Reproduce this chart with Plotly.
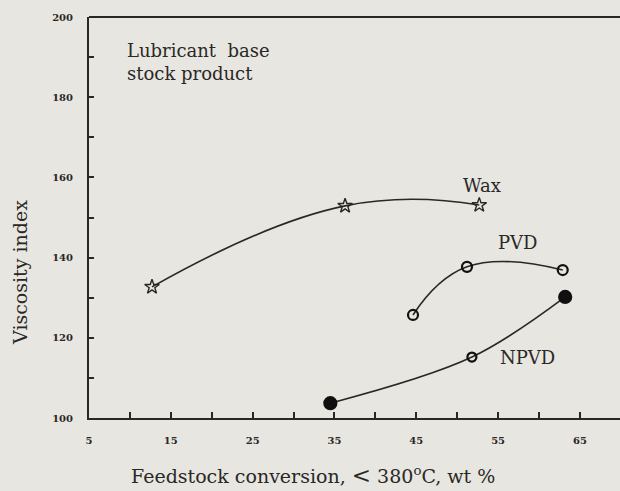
import plotly.graph_objects as go

# Data
wax_x = [12.7, 36.3, 52.7]
wax_y = [132.7, 152.9, 153.1]
pvd_x = [44.6, 51.2, 62.9]
pvd_y = [125.7, 137.7, 136.9]
npvd_x = [34.5, 51.8, 63.2]
npvd_y = [103.7, 115.2, 130.2]

x_tickvals = [5, 15, 25, 35, 45, 55, 65]
y_tickvals = [100, 120, 140, 160, 180, 200]

ink = "#2a2826"
dark = "#111010"
paper = "#e8e6e1"
serif = "DejaVu Serif, Liberation Serif, serif"

L, R, T, B = 89, 620, 17, 418   # plot area in pixels
W, H = 620, 491


def px(xp, yp):
    return (xp - L) / (R - L), (B - yp) / (B - T)


fig = go.Figure()
fig.add_trace(go.Scatter(
    x=wax_x, y=wax_y, mode="lines+markers", name="Wax",
    line=dict(color=ink, width=1.6, shape="spline", smoothing=1.3),
    marker=dict(symbol="star-open", size=11, color=ink, opacity=1,
                line=dict(width=1.4, color=ink)),
))
fig.add_trace(go.Scatter(
    x=pvd_x, y=pvd_y, mode="lines+markers", name="PVD",
    line=dict(color=ink, width=1.6, shape="spline", smoothing=1.3),
    marker=dict(symbol="circle-open", size=10, color=dark, opacity=1,
                line=dict(width=2.2, color=dark)),
))
fig.add_trace(go.Scatter(
    x=npvd_x, y=npvd_y, mode="lines+markers", name="NPVD",
    line=dict(color=ink, width=1.6, shape="spline", smoothing=1.0),
    marker=dict(symbol=["circle", "circle-open", "circle"], size=[12, 9, 12],
                color=dark, opacity=1, line=dict(width=2.2, color=dark)),
))


def label(xp, yp, text, size, **kw):
    ax, ay = px(xp, yp)
    opts = dict(xanchor="center", yanchor="middle")
    opts.update(kw)
    fig.add_annotation(x=ax, y=ay, xref="paper", yref="paper", text=text,
                       showarrow=False, font=dict(family=serif, size=size, color=ink), **opts)


label(482, 185, "Wax", 18)
label(518, 242, "PVD", 18)
label(527, 357, "NPVD", 18)
label(125, 62, "Lubricant  base<br>stock product", 18, xanchor="left", align="left")
label(313, 475, "Feedstock conversion, <span style='font-size:23px'>&lt;</span> 380<sup>o</sup>C, wt %", 19)
label(20, 273, "Viscosity index", 19, textangle=-90)

# top frame line
fig.add_shape(type="line", xref="paper", yref="paper", x0=0, x1=1, y0=1, y1=1,
              line=dict(color=ink, width=2))

tickfont = dict(family=serif, size=10, color=ink, weight="bold")
fig.update_layout(
    width=W, height=H,
    margin=dict(l=L, r=W - R, t=T, b=H - B),
    paper_bgcolor=paper, plot_bgcolor=paper,
    showlegend=False,
    font=dict(family=serif, color=ink),
    xaxis=dict(range=[5, 69.9], tickvals=x_tickvals, ticks="inside", ticklen=6,
               tickwidth=1.5, tickcolor=ink, showline=True, linecolor=ink, linewidth=2,
               showgrid=False, zeroline=False, tickfont=tickfont, ticklabelstandoff=12,
               minor=dict(dtick=5, tick0=5, ticks="inside", ticklen=6, tickcolor=ink, tickwidth=1.5)),
    yaxis=dict(range=[100, 200], tickvals=y_tickvals, ticks="inside", ticklen=5,
               tickwidth=1.5, tickcolor=ink, showline=True, linecolor=ink, linewidth=2,
               showgrid=False, zeroline=False, tickfont=tickfont, ticklabelstandoff=12,
               minor=dict(dtick=10, tick0=100, ticks="inside", ticklen=5, tickcolor=ink, tickwidth=1.5)),
)

fig.write_html("out.html", config={"responsive": False, "displayModeBar": False},
               post_script="document.body.style.margin='0px';")
